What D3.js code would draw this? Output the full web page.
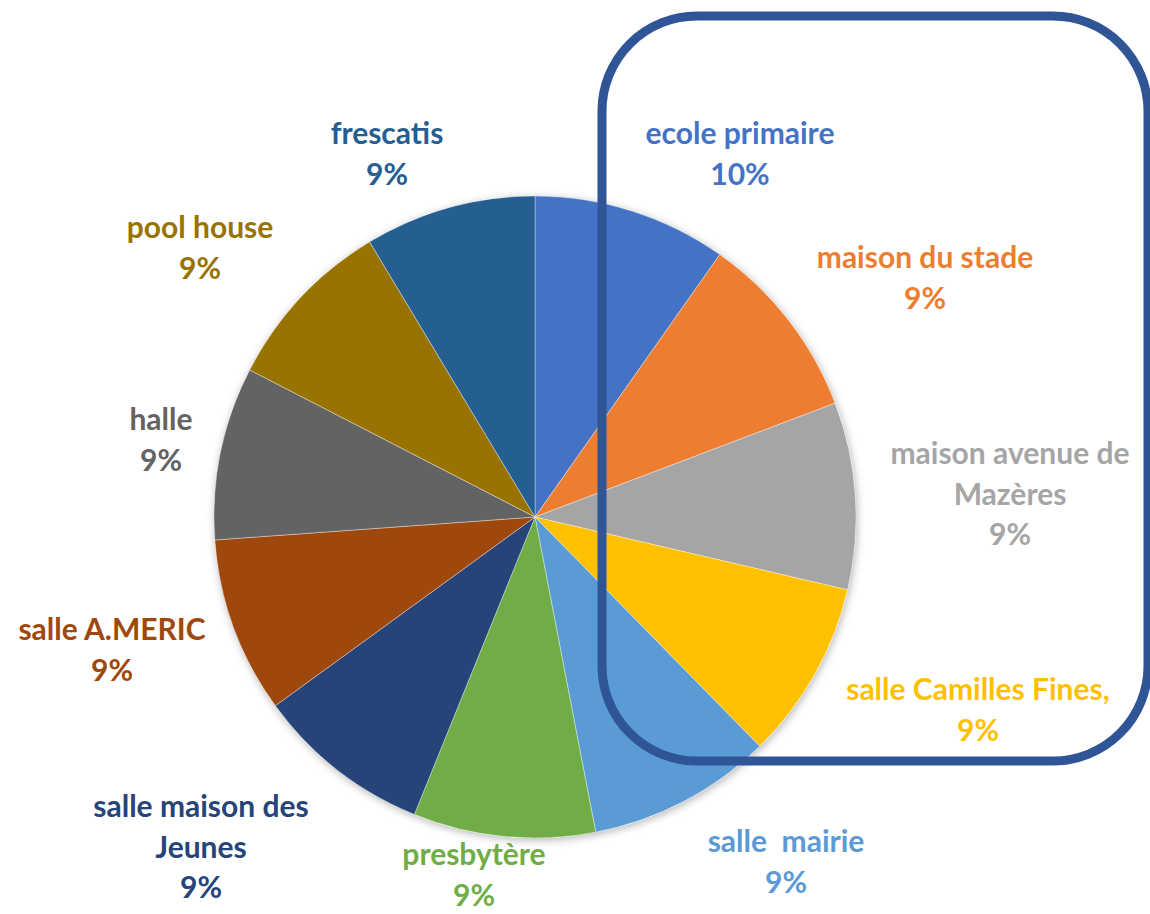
<!DOCTYPE html>
<html>
<head>
<meta charset="utf-8">
<script src="https://cdn.jsdelivr.net/npm/d3@7"></script>
<style>
  body { margin: 0; background: #fff; }
  svg { display: block; }
  .lbl { font-family: Lato, "Open Sans", sans-serif; font-weight: bold; font-size: 30px; white-space: pre; }
</style>
</head>
<body>
<svg width="1150" height="914"></svg>
<script>
// slices, clockwise from 12 o'clock
const categories = [
  'ecole primaire', 'maison du stade', 'maison avenue de Mazères', 'salle Camilles Fines,',
  'salle  mairie', 'presbytère', 'salle maison des Jeunes', 'salle A.MERIC',
  'halle', 'pool house', 'frescatis'
];
const values = [9.75, 9.45, 9.4, 9.0, 9.3, 9.15, 8.85, 8.85, 8.7, 8.8, 8.6];
const colors = ['#4472C4', '#ED7D31', '#A5A5A5', '#FFC000', '#5B9BD5', '#70AD47',
                '#264478', '#9E480E', '#636363', '#997300', '#255E91'];
// how each category label is broken into lines
const labelLines = [
  ['ecole primaire'], ['maison du stade'], ['maison avenue de', 'Mazères'], ['salle Camilles Fines,'],
  ['salle  mairie'], ['presbytère'], ['salle maison des', 'Jeunes'], ['salle A.MERIC'],
  ['halle'], ['pool house'], ['frescatis']
];

// label placement (x centre, first baseline) -- excel "best fit" spots
const labelAnchors = [
  [740, 144], [925, 268], [1010, 464], [978, 700], [786, 852], [474, 865],
  [201, 817], [112, 640], [161, 430], [200, 238], [387, 144]
];

const svg = d3.select('svg');
const cx = 535, cy = 517, radius = 321;
const lineH = 40.5;

const defs = svg.append('defs');
defs.append('filter').attr('id', 'shadow')
    .attr('x', '-10%').attr('y', '-10%').attr('width', '120%').attr('height', '120%')
  .append('feDropShadow')
    .attr('dx', 1).attr('dy', 2).attr('stdDeviation', 4)
    .attr('flood-color', '#000').attr('flood-opacity', 0.3);

const pie = d3.pie().sort(null).value(d => d)(values);
const arc = d3.arc().innerRadius(0).outerRadius(radius);

const g = svg.append('g').attr('transform', `translate(${cx},${cy})`);
g.append('circle').attr('r', radius).attr('fill', '#fff').attr('filter', 'url(#shadow)');
g.selectAll('path')
  .data(pie)
  .enter()
  .append('path')
  .attr('d', arc)
  .attr('fill', (d, i) => colors[i])
  .attr('stroke', 'rgba(255,255,255,0.45)')
  .attr('stroke-width', 0.8);

const total = d3.sum(values);

// data labels
const labels = svg.append('g');
categories.forEach((c, i) => {
  const lines = labelLines[i].concat([Math.round(values[i] / total * 100) + '%']);
  const t = labels.append('text')
    .attr('class', 'lbl')
    .attr('text-anchor', 'middle')
    .attr('fill', colors[i]);
  lines.forEach((s, k) => {
    t.append('tspan')
      .attr('x', labelAnchors[i][0])
      .attr('y', labelAnchors[i][1] + k * lineH)
      .text(s);
  });
});

// highlight frame drawn over the chart
svg.append('rect')
  .attr('x', 602).attr('y', 16)
  .attr('width', 546).attr('height', 745)
  .attr('rx', 95).attr('ry', 95)
  .attr('fill', 'none')
  .attr('stroke', '#2F5597')
  .attr('stroke-width', 9);
</script>
</body>
</html>
